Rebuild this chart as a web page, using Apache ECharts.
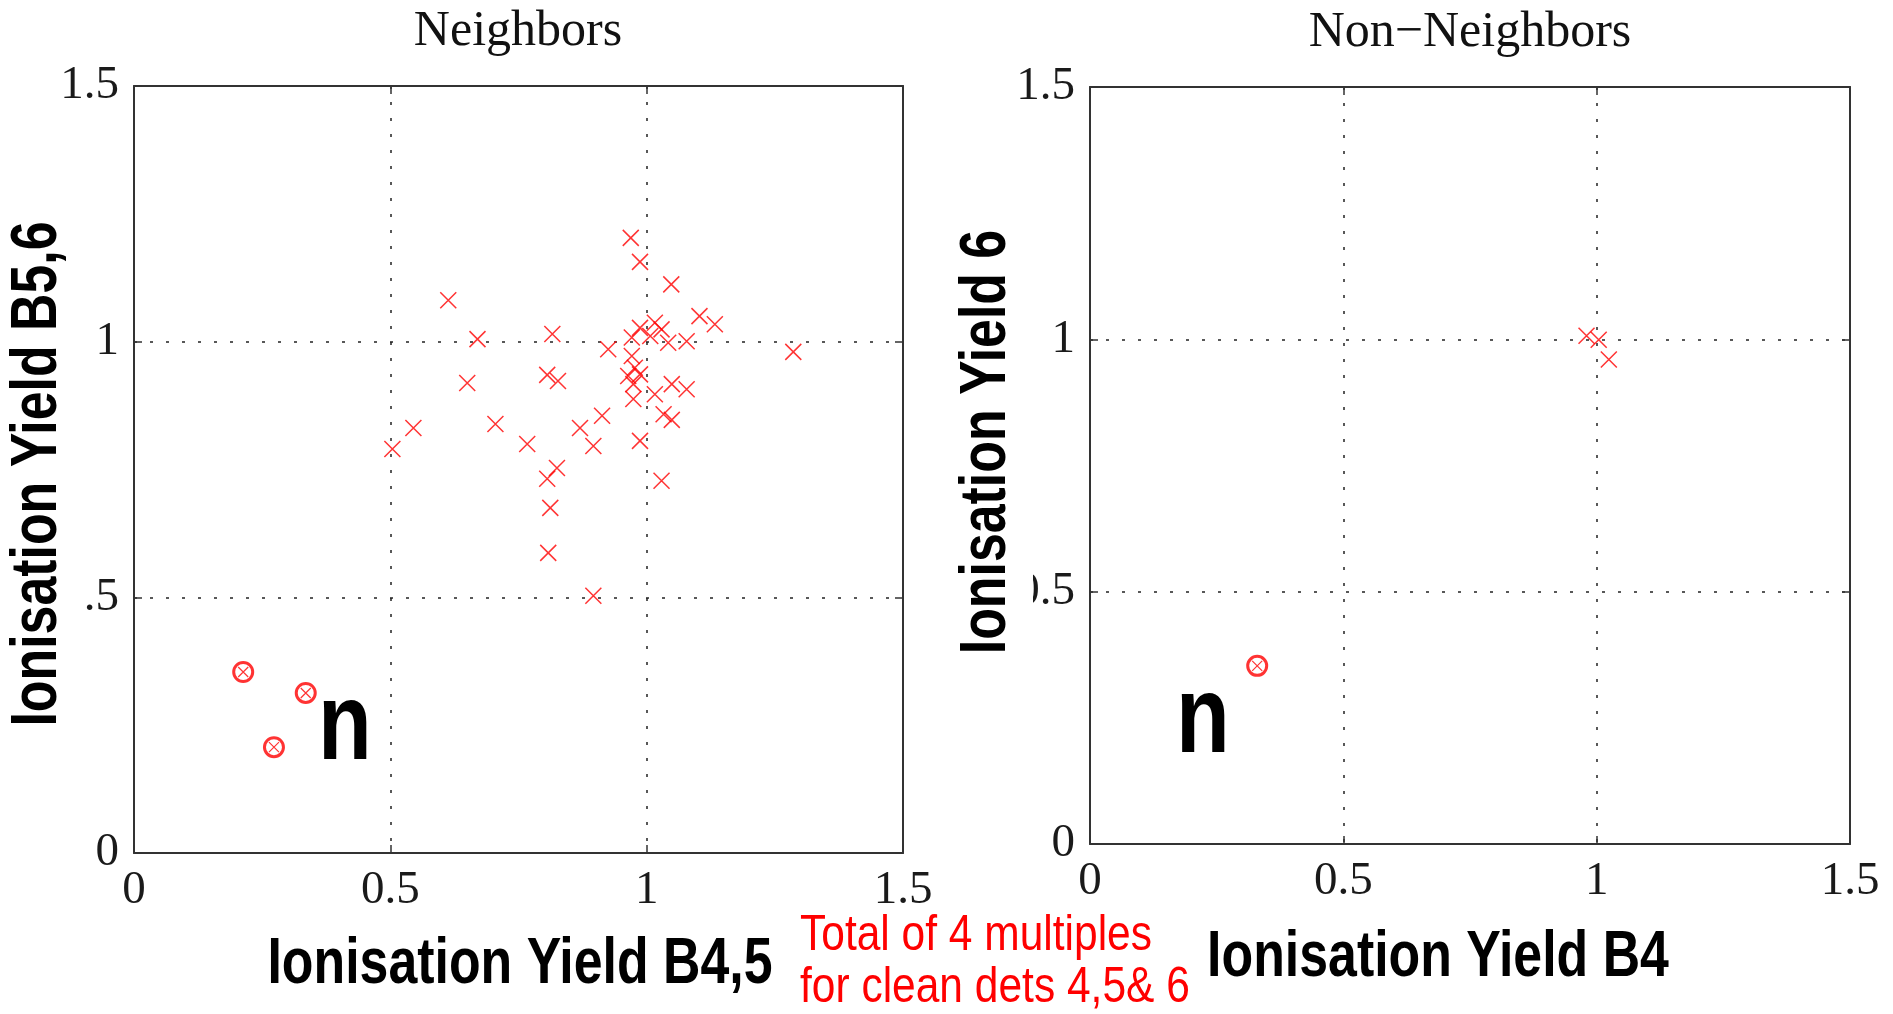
<!DOCTYPE html>
<html>
<head>
<meta charset="utf-8">
<script src="https://cdn.jsdelivr.net/npm/echarts@6/dist/echarts.min.js"></script>
<style>
  html, body { margin: 0; padding: 0; background: #ffffff; }
  #chart { width: 1893px; height: 1014px; }
</style>
</head>
<body>
<div id="chart"></div>
<script>
// Ionisation yields of multiple-scatter events, [yieldX, yieldY]
const neighborCrosses = [
  [0.613, 1.081], [0.670, 1.005], [0.816, 1.015], [0.650, 0.919], [0.806, 0.935], [0.827, 0.923],
  [0.545, 0.831], [0.504, 0.790], [0.705, 0.839], [0.767, 0.800], [0.825, 0.753], [0.806, 0.732],
  [0.812, 0.675], [0.808, 0.587], [0.896, 0.503], [0.870, 0.831], [0.896, 0.796],
  [0.969, 1.203], [0.987, 1.156], [1.048, 1.112], [1.103, 1.050], [1.133, 1.034], [1.286, 0.980],
  [0.925, 0.985], [0.987, 1.027], [1.016, 1.037], [1.029, 1.024], [0.971, 1.008], [1.007, 1.011],
  [1.042, 0.998], [1.078, 1.001], [0.971, 0.972], [0.977, 0.949], [0.964, 0.933], [0.987, 0.936],
  [0.974, 0.917], [0.974, 0.888], [1.016, 0.897], [1.049, 0.917], [1.078, 0.907], [1.033, 0.858],
  [0.913, 0.855], [1.049, 0.847], [0.987, 0.806], [1.029, 0.728]
];
const neighborMultiples = [[0.213, 0.354], [0.335, 0.313], [0.273, 0.207]];

const nonNeighborCrosses = [[0.980, 1.007], [1.004, 0.999], [1.024, 0.960]];
const nonNeighborMultiples = [[0.330, 0.353]];

const axisTickValues = [0, 0.5, 1, 1.5];

const panelTitles = ['Neighbors', 'Non\u2212Neighbors'];
const xAxisTitles = ['Ionisation Yield B4,5', 'Ionisation Yield B4'];
const yAxisTitles = ['Ionisation Yield B5,6', 'Ionisation Yield 6'];
const noteLines = ['Total of 4 multiples', 'for clean dets 4,5& 6'];
const eventMark = 'n';

const RED = '#ff0000';
const INK = '#333333';
const SERIF = 'Liberation Serif, Times New Roman, serif';
const SANS = 'Liberation Sans, Arial, sans-serif';
const CROSS = 'path://M0,0L10,10M10,0L0,10';

const axisMin = axisTickValues[0];
const axisMax = axisTickValues[axisTickValues.length - 1];
const axisStep = axisTickValues[1] - axisTickValues[0];

function makeAxis(gridIndex, position, primary) {
  return {
    type: 'value',
    gridIndex: gridIndex,
    position: position,
    min: axisMin,
    max: axisMax,
    interval: axisStep,
    axisLine: { show: true, onZero: false, lineStyle: { color: INK, width: 2 } },
    axisTick: { show: true, inside: true, length: 8, lineStyle: { color: INK, width: 1.5 } },
    axisLabel: {
      show: primary,
      margin: position === 'bottom' ? 14 : 15,
      fontFamily: SERIF,
      fontSize: 47,
      color: '#1a1a1a'
    },
    splitLine: {
      show: primary,
      lineStyle: { color: '#222222', width: 1.5, type: [3, 13] }
    }
  };
}

const crossStyle = { color: 'rgba(0,0,0,0)', borderColor: RED, borderWidth: 1.5 };
const ringStyle = { color: 'rgba(0,0,0,0)', borderColor: RED, borderWidth: 3 };
const innerCrossStyle = { color: 'rgba(0,0,0,0)', borderColor: RED, borderWidth: 1.2 };

function panelSeries(axisIndex, crosses, multiples) {
  const common = { type: 'scatter', xAxisIndex: axisIndex, yAxisIndex: axisIndex, silent: true, animation: false, z: 5 };
  return [
    Object.assign({}, common, { data: crosses, symbol: CROSS, symbolSize: 16, itemStyle: crossStyle }),
    Object.assign({}, common, { data: multiples, symbol: 'circle', symbolSize: 19, itemStyle: ringStyle }),
    Object.assign({}, common, { data: multiples, symbol: CROSS, symbolSize: 10, itemStyle: innerCrossStyle })
  ];
}

function label(text, x, y, opts) {
  return {
    type: 'text',
    x: x, y: y,
    rotation: opts.rotation || 0,
    scaleX: opts.scaleX || 1,
    z: 100,
    style: {
      text: text,
      fill: opts.fill || '#000000',
      font: opts.font,
      textAlign: opts.align || 'center',
      align: opts.align || 'center',
      textVerticalAlign: 'middle',
      verticalAlign: 'middle'
    }
  };
}

const bigLabel = 'bold 64px ' + SANS;

const option = {
  backgroundColor: '#ffffff',
  animation: false,
  grid: [
    { left: 134, top: 86, width: 769, height: 767 },
    { left: 1090, top: 87, width: 760, height: 757 }
  ],
  xAxis: [
    makeAxis(0, 'bottom', true), makeAxis(0, 'top', false),
    makeAxis(1, 'bottom', true), makeAxis(1, 'top', false)
  ],
  yAxis: [
    makeAxis(0, 'left', true), makeAxis(0, 'right', false),
    makeAxis(1, 'left', true), makeAxis(1, 'right', false)
  ],
  series: [].concat(
    panelSeries(0, neighborCrosses, neighborMultiples),
    panelSeries(2, nonNeighborCrosses, nonNeighborMultiples)
  ),
  graphic: [
    // white backing of the rotated axis titles
    { type: 'rect', z: 90, shape: { x: 0, y: 200, width: 84, height: 545 }, style: { fill: '#ffffff' } },
    { type: 'rect', z: 90, shape: { x: 945, y: 215, width: 88, height: 450 }, style: { fill: '#ffffff' } },

    label(panelTitles[0], 518, 32, { font: '50px ' + SERIF, fill: '#111111' }),
    label(panelTitles[1], 1470, 33, { font: '50px ' + SERIF, fill: '#111111' }),

    label(xAxisTitles[0], 520, 965, { font: bigLabel, scaleX: 0.81 }),
    label(xAxisTitles[1], 1438, 958, { font: bigLabel, scaleX: 0.81 }),
    label(yAxisTitles[0], 38, 474, { font: bigLabel, scaleX: 0.81, rotation: Math.PI / 2 }),
    label(yAxisTitles[1], 987, 442, { font: bigLabel, scaleX: 0.81, rotation: Math.PI / 2 }),

    label(noteLines[0], 800, 936, { font: '50px ' + SANS, fill: RED, scaleX: 0.85, align: 'left' }),
    label(noteLines[1], 800, 988, { font: '50px ' + SANS, fill: RED, scaleX: 0.85, align: 'left' }),

    label(eventMark, 318, 729, { font: 'bold 110px ' + SANS, scaleX: 0.8, align: 'left' }),
    label(eventMark, 1176, 722, { font: 'bold 110px ' + SANS, scaleX: 0.8, align: 'left' })
  ]
};

const chart = echarts.init(document.getElementById('chart'), null, { renderer: 'canvas' });
chart.setOption(option);
</script>
</body>
</html>
